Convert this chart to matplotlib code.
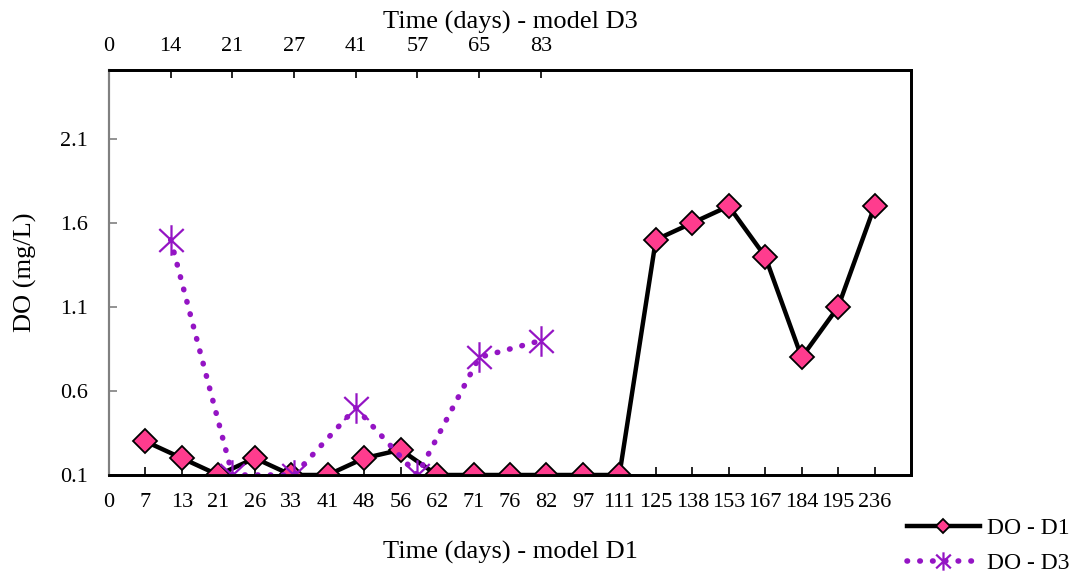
import matplotlib.pyplot as plt
from matplotlib.path import Path

plt.rcParams['font.family'] = ['Liberation Serif', 'DejaVu Serif']

# bottom axis (model D1)
d1_days = ['0', '7', '13', '21', '26', '33', '41', '48', '56', '62', '71', '76',
           '82', '97', '111', '125', '138', '153', '167', '184', '195', '236']
d1_do = [0.3, 0.2, 0.1, 0.2, 0.1, 0.1, 0.2, 0.25, 0.1, 0.1, 0.1, 0.1, 0.1,
         0.1, 1.5, 1.6, 1.7, 1.4, 0.8, 1.1, 1.7]

# top axis (model D3)
d3_days = ['0', '14', '21', '27', '41', '57', '65', '83']
d3_do = [1.5, 0.1, 0.1, 0.5, 0.1, 0.8, 0.9]

yticks = [0.1, 0.6, 1.1, 1.6, 2.1]

# asterisk: vertical stroke plus an X
star = Path([(0, -1), (0, 1), (-0.8, -0.75), (0.8, 0.75), (-0.8, 0.75), (0.8, -0.75)],
            [Path.MOVETO, Path.LINETO, Path.MOVETO, Path.LINETO, Path.MOVETO, Path.LINETO])

fig = plt.figure(figsize=(10.77, 5.74), dpi=100)
ax = fig.add_axes([0.1012, 0.1725, 0.7447, 0.7055])

x1 = list(range(1, len(d1_do) + 1))
l1, = ax.plot(x1, d1_do, color='black', lw=3.2, marker='D', markersize=12.5,
              markerfacecolor='#FF3C8E', markeredgecolor='black', markeredgewidth=1.3,
              label='DO - D1', zorder=3)
ax.set_xlim(0, 22)
ax.set_ylim(0.1, 2.51)
ax.set_xticks(range(len(d1_days)))
ax.set_xticklabels(d1_days)
ax.set_yticks(yticks)
ax.set_yticklabels([f'{v:.1f}' for v in yticks])
ax.tick_params(axis='x', direction='in', length=6, width=1.2, labelsize=16, pad=13)
ax.tick_params(axis='y', direction='in', length=6, width=1.2, colors='#808080',
               labelcolor='black', labelsize=16, pad=15)
ax.set_xlabel('Time (days) - model D1', fontsize=19, labelpad=21)
ax.set_ylabel('DO (mg/L)', fontsize=19, labelpad=17)

ax2 = ax.twiny()
x3 = list(range(1, len(d3_do) + 1))
l3, = ax2.plot(x3, d3_do, color='#9414C4', lw=4, linestyle=(0, (0.1, 2.2)),
               dash_capstyle='round', marker=star, markersize=22,
               markeredgewidth=1.6, markeredgecolor='#9414C4', label='DO - D3',
               zorder=2)
ax2.set_xlim(0, 13)
ax2.set_xticks(range(len(d3_days)))
ax2.set_xticklabels(d3_days)
ax2.tick_params(axis='x', direction='in', length=6, width=1.2, labelsize=16, pad=10)
ax2.set_xlabel('Time (days) - model D3', fontsize=19, labelpad=6)

for a in (ax, ax2):
    for s in ['top', 'bottom', 'right']:
        a.spines[s].set_linewidth(2)
        a.spines[s].set_color('black')
    a.spines['left'].set_color('#808080')
    a.spines['left'].set_linewidth(1.5)

fig.legend(handles=[l1, l3], loc='lower left', bbox_to_anchor=(0.842, 0.0),
           borderpad=0, borderaxespad=0,
           frameon=False, fontsize=17, handlelength=3.1, handletextpad=0.3,
           labelspacing=0.55, markerscale=0.6)

fig.savefig('out.png', dpi=100)
